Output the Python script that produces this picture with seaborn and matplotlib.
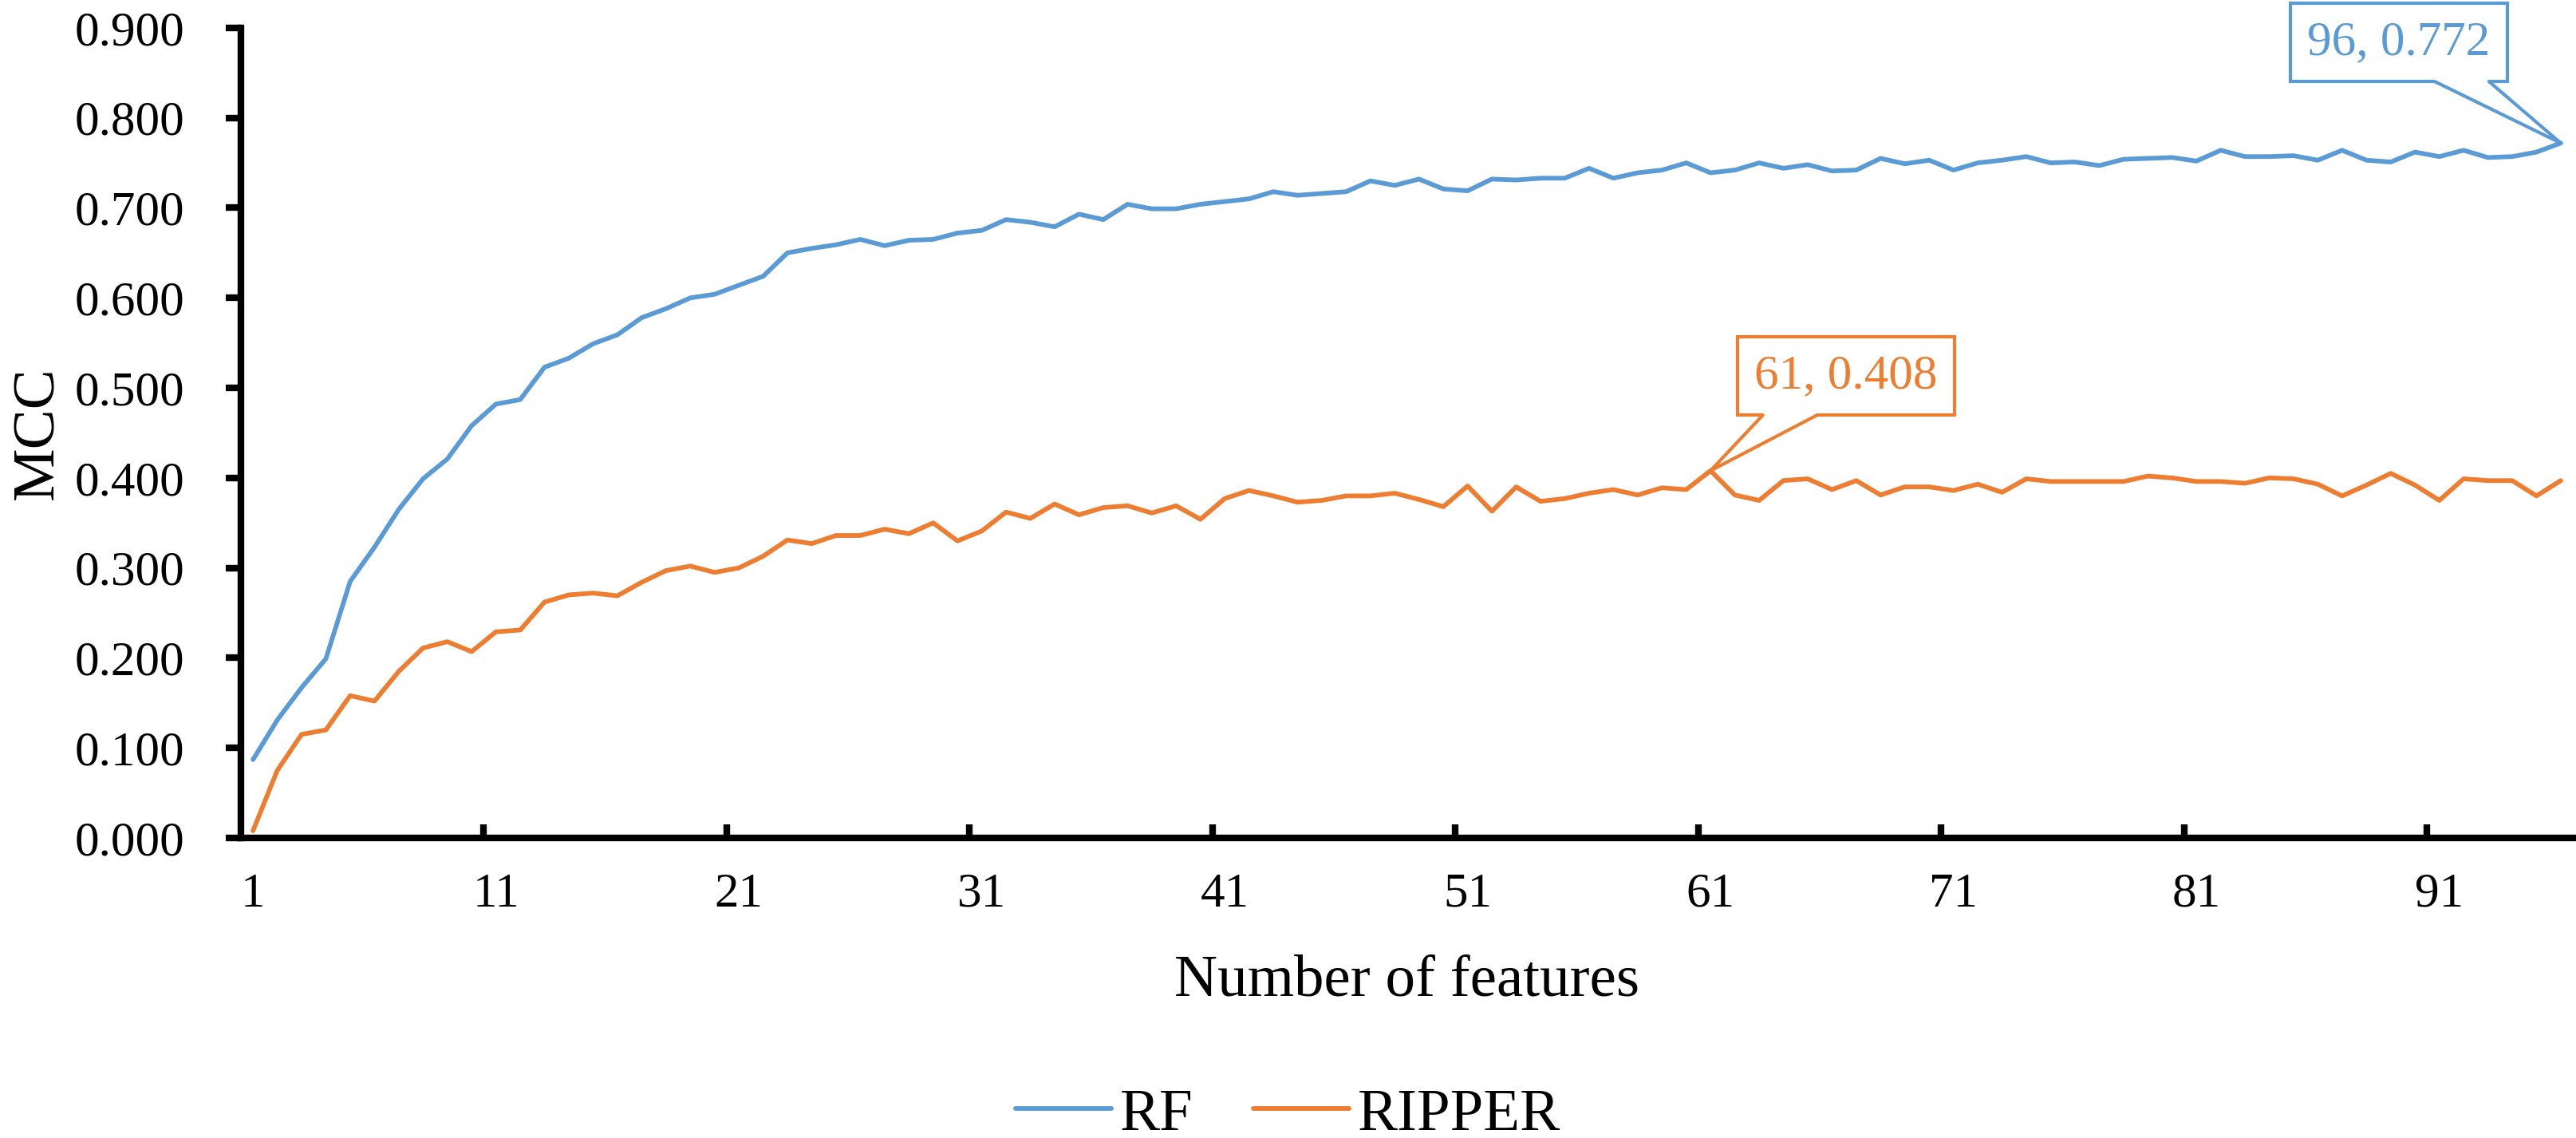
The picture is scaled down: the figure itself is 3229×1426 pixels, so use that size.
import matplotlib
matplotlib.use("Agg")
import pandas as pd
import matplotlib.pyplot as plt
import seaborn as sns
from matplotlib.patches import Polygon
from matplotlib.lines import Line2D
from matplotlib.transforms import IdentityTransform

# data
n_features = list(range(1, 97))
rf_mcc = [
    0.087, 0.131, 0.167, 0.199, 0.285, 0.323, 0.365, 0.399, 0.421, 0.458,
    0.482, 0.487, 0.523, 0.533, 0.549, 0.559, 0.578, 0.588, 0.600, 0.604,
    0.614, 0.624, 0.650, 0.655, 0.659, 0.665, 0.658, 0.664, 0.665, 0.672,
    0.675, 0.687, 0.684, 0.679, 0.693, 0.687, 0.704, 0.699, 0.699, 0.704,
    0.707, 0.710, 0.718, 0.714, 0.716, 0.718, 0.730, 0.725, 0.732, 0.721,
    0.719, 0.732, 0.731, 0.733, 0.733, 0.744, 0.733, 0.739, 0.742, 0.750,
    0.739, 0.742, 0.750, 0.744, 0.748, 0.741, 0.742, 0.755, 0.749, 0.753,
    0.742, 0.750, 0.753, 0.757, 0.750, 0.751, 0.747, 0.754, 0.755, 0.756,
    0.752, 0.764, 0.757, 0.757, 0.758, 0.753, 0.764, 0.753, 0.751, 0.762,
    0.757, 0.764, 0.756, 0.757, 0.762, 0.772,
]
ripper_mcc = [
    0.008, 0.075, 0.115, 0.120, 0.158, 0.152, 0.185, 0.211, 0.218, 0.207,
    0.229, 0.231, 0.262, 0.270, 0.272, 0.269, 0.284, 0.297, 0.302, 0.295,
    0.300, 0.313, 0.331, 0.327, 0.336, 0.336, 0.343, 0.338, 0.350, 0.330,
    0.341, 0.362, 0.355, 0.371, 0.359, 0.367, 0.369, 0.361, 0.369, 0.354,
    0.377, 0.386, 0.380, 0.373, 0.375, 0.380, 0.380, 0.383, 0.376, 0.368,
    0.391, 0.363, 0.390, 0.374, 0.377, 0.383, 0.387, 0.381, 0.389, 0.387,
    0.408, 0.381, 0.375, 0.397, 0.399, 0.387, 0.397, 0.381, 0.390, 0.390,
    0.386, 0.393, 0.384, 0.399, 0.396, 0.396, 0.396, 0.396, 0.402, 0.400,
    0.396, 0.396, 0.394, 0.400, 0.399, 0.393, 0.380, 0.392, 0.405, 0.392,
    0.375, 0.399, 0.397, 0.397, 0.380, 0.397,
]
models = ["RF", "RIPPER"]
colors = ["#5B9BD5", "#ED7D31"]
y_ticks = [0.0, 0.1, 0.2, 0.3, 0.4, 0.5, 0.6, 0.7, 0.8, 0.9]
x_ticks = [1, 11, 21, 31, 41, 51, 61, 71, 81, 91]

df = pd.DataFrame({
    "Number of features": n_features * 2,
    "MCC": rf_mcc + ripper_mcc,
    "Model": [models[0]] * len(rf_mcc) + [models[1]] * len(ripper_mcc),
})

sns.set_theme(style="white")
plt.rcParams["font.family"] = ["Liberation Serif", "DejaVu Serif"]
plt.rcParams["text.color"] = "black"
plt.rcParams["axes.labelcolor"] = "black"
plt.rcParams["xtick.color"] = "black"
plt.rcParams["ytick.color"] = "black"

fig = plt.figure(figsize=(32.29, 14.26), dpi=100)
ax = fig.add_axes([0.0935, 0.2637, 0.9053, 0.7118])

sns.lineplot(data=df, x="Number of features", y="MCC", hue="Model",
             palette=dict(zip(models, colors)), linewidth=4.2, ax=ax)

ax.set_yticks(y_ticks)
ax.set_yticklabels([f"{v:.3f}" for v in y_ticks])
ax.set_xticks(x_ticks)
ax.set_xticks([x + 9.5 for x in x_ticks[:-1]], minor=True)
ax.set_xlim(0.5, 96.5)
ax.set_ylim(0, 0.9)

for side in ["top", "right"]:
    ax.spines[side].set_visible(False)
for side in ["left", "bottom"]:
    ax.spines[side].set_color("black")
    ax.spines[side].set_linewidth(6)

ax.tick_params(axis="y", which="major", left=True, direction="out",
               length=14, width=6, labelsize=44, pad=37)
ax.tick_params(axis="x", which="major", bottom=True, length=0, labelsize=44, pad=31)
ax.tick_params(axis="x", which="minor", bottom=True, direction="in",
               length=12, width=6)

ax.set_xlabel("Number of features", fontsize=54, labelpad=34)
ax.set_ylabel("MCC", fontsize=54)
ax.yaxis.set_label_coords(-0.075, 0.5)

# callouts: text box plus an Excel-style pointer
callouts = [(96, 0.772, (3007, 1373), colors[0]),
            (61, 0.408, (2314, 955), colors[1])]
anns = []
for x, y, pos, c in callouts:
    ann = ax.annotate(f"{x}, {y:.3f}", xy=(x, y), xytext=pos, textcoords="figure pixels",
                      ha="center", va="center", fontsize=44, color=c, zorder=5,
                      bbox=dict(boxstyle="square,pad=0.35", fc="white", ec=c, lw=3))
    anns.append((ann, x, y, c))

handles, labels = ax.get_legend_handles_labels()
ax.legend_.remove()
fig.legend(handles, labels, loc="center", bbox_to_anchor=(0.5, 0.02), ncol=2,
           frameon=False, fontsize=54, handlelength=1.6, handletextpad=0.15,
           columnspacing=1.0)

fig.canvas.draw()
renderer = fig.canvas.get_renderer()
for ann, x, y, c in anns:
    bb = ann.get_bbox_patch().get_window_extent(renderer)
    tx, ty = ax.transData.transform((x, y))
    cx, cy = (bb.x0 + bb.x1) / 2, (bb.y0 + bb.y1) / 2
    bx = cx + (tx - cx) * (cy - bb.y0) / (cy - ty)
    hw = 34
    fill = Polygon([(bx - hw, bb.y0 + 5), (bx - hw, bb.y0), (tx, ty),
                    (bx + hw, bb.y0), (bx + hw, bb.y0 + 5)],
                   closed=True, fc="white", ec="none",
                   transform=IdentityTransform(), zorder=6)
    fig.add_artist(fill)
    edge = Line2D([bx - hw, tx, bx + hw], [bb.y0, ty, bb.y0], color=c, lw=3,
                  transform=IdentityTransform(), zorder=7)
    fig.add_artist(edge)

fig.savefig("out.png", dpi=100)
